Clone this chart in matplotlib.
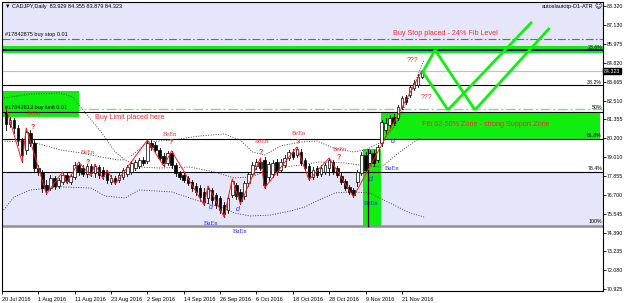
import matplotlib
matplotlib.use('Agg')
import matplotlib.pyplot as plt
from matplotlib.patches import Rectangle
from matplotlib.transforms import blended_transform_factory

plt.rcParams['font.family'] = ['Liberation Sans', 'DejaVu Sans']

# ---------------- data ----------------
opens = [81.80, 81.07, 81.31, 80.82, 80.08, 79.47, 80.51, 79.90, 78.36, 78.12,
         77.32, 77.13, 77.75, 77.26, 77.50, 77.93, 77.50, 77.81, 78.55, 78.36,
         78.00, 78.49, 78.06, 78.42, 78.24, 78.06, 77.50, 77.75, 77.63, 77.81,
         78.00, 78.12, 78.36, 78.49, 78.86, 78.79, 79.90, 79.78, 79.47, 79.10,
         78.67, 79.29, 78.55, 78.06, 77.93, 77.75, 77.50, 77.26, 77.13, 76.89,
         76.52, 77.01, 76.71, 76.52, 76.09, 75.78, 76.71, 77.32, 76.89, 76.64,
         77.44, 78.00, 78.49, 78.73, 78.86, 77.81, 78.00, 78.73, 78.24, 78.55,
         78.98, 79.35, 79.16, 79.35, 78.86, 78.49, 77.81, 78.36, 78.00, 78.12,
         78.36, 78.73, 78.36, 77.87, 77.57, 77.20, 77.01, 77.50, 78.06, 79.16,
         78.67, 79.29, 78.86, 79.90, 80.70, 81.01, 81.50, 81.44, 82.11, 82.73,
         82.85, 83.28, 83.46, 83.929]
closes = [81.07, 81.31, 80.82, 80.08, 79.16, 80.58, 79.90, 78.36, 78.12, 77.13,
          77.01, 77.75, 77.26, 77.63, 77.93, 77.57, 77.87, 78.55, 78.12, 78.00,
          78.49, 78.06, 78.49, 77.93, 77.87, 77.63, 77.75, 77.50, 77.93, 78.24,
          78.42, 78.67, 78.73, 78.86, 78.67, 79.90, 79.65, 79.47, 78.98, 78.67,
          79.29, 78.55, 78.06, 77.81, 77.63, 77.44, 77.13, 76.89, 76.58, 76.27,
          77.07, 76.40, 76.09, 75.78, 75.54, 76.52, 77.57, 76.64, 76.34, 77.44,
          78.00, 78.55, 78.73, 78.36, 77.32, 78.61, 78.67, 78.12, 78.73, 78.98,
          79.35, 79.04, 79.53, 78.67, 78.36, 77.81, 78.24, 77.93, 78.36, 78.55,
          78.86, 78.12, 77.93, 77.50, 77.13, 76.89, 76.71, 78.12, 79.16, 78.24,
          79.29, 78.67, 79.65, 81.19, 81.13, 81.44, 81.13, 82.11, 82.67, 82.42,
          83.34, 83.59, 83.96, 84.323]
highs = [82.05, 81.50, 81.44, 81.01, 80.20, 80.82, 80.70, 80.08, 78.55, 78.24,
         77.63, 77.93, 77.87, 77.75, 78.12, 78.06, 78.00, 78.73, 78.73, 78.55,
         78.61, 78.61, 78.61, 78.55, 78.42, 78.24, 77.93, 77.87, 78.06, 78.36,
         78.55, 78.79, 78.86, 78.98, 79.04, 80.08, 80.08, 79.96, 79.59, 79.29,
         79.41, 79.41, 78.67, 78.18, 78.06, 77.87, 77.63, 77.44, 77.32, 77.13,
         77.26, 77.13, 76.83, 76.64, 76.27, 76.71, 77.69, 77.44, 77.07, 77.57,
         78.12, 78.73, 78.92, 78.98, 79.04, 78.73, 78.86, 78.92, 78.92, 79.16,
         79.47, 79.53, 79.65, 79.53, 78.98, 78.61, 78.42, 78.49, 78.55, 78.67,
         78.98, 78.86, 78.49, 78.12, 77.69, 77.32, 77.13, 78.24, 79.35, 79.35,
         79.47, 79.47, 79.78, 81.31, 81.44, 81.62, 81.68, 82.24, 82.79, 82.85,
         83.46, 83.77, 84.14, 84.355]
lows = [80.70, 80.88, 80.51, 79.78, 78.73, 79.22, 79.72, 78.12, 77.93, 76.89,
        76.77, 77.01, 77.07, 77.13, 77.38, 77.44, 77.38, 77.69, 77.93, 77.87,
        77.81, 77.87, 77.81, 77.75, 77.69, 77.44, 77.38, 77.38, 77.50, 77.69,
        77.87, 78.00, 78.24, 78.36, 78.55, 78.67, 79.47, 79.35, 78.86, 78.49,
        78.55, 78.36, 77.87, 77.69, 77.50, 77.32, 76.95, 76.71, 76.40, 76.09,
        76.21, 76.21, 75.91, 75.60, 75.35, 75.60, 76.58, 76.46, 76.15, 76.46,
        77.26, 77.87, 78.30, 78.24, 77.13, 77.63, 77.81, 77.93, 78.12, 78.42,
        78.86, 78.92, 79.04, 78.55, 78.24, 77.63, 77.69, 77.81, 77.87, 78.00,
        77.93, 78.00, 77.81, 77.38, 77.01, 76.77, 76.58, 77.26, 77.93, 78.12,
        78.55, 78.49, 78.73, 79.72, 80.51, 80.88, 81.01, 81.31, 81.99, 82.30,
        82.73, 83.16, 83.34, 83.879]

date_labels = ["20 Jul 2016", "1 Aug 2016", "11 Aug 2016", "23 Aug 2016", "2 Sep 2016",
               "14 Sep 2016", "26 Sep 2016", "6 Oct 2016", "18 Oct 2016", "28 Oct 2016",
               "9 Nov 2016", "21 Nov 2016"]
price_ticks = [88.320, 87.130, 85.975, 84.820, 83.665, 82.510, 81.355, 80.200,
               79.010, 77.855, 76.700, 75.545, 74.390, 73.235, 72.080, 70.925]

# zigzag (bar index, price)
zz_x = [1, 5, 6, 11, 15, 16, 19, 22, 23, 25, 26, 28, 36, 40, 42, 50, 51, 55, 57, 59,
        64, 65, 73, 76, 81, 87, 104]
zz_y = [82.05, 78.73, 80.82, 76.77, 78.12, 77.44, 78.73, 77.87, 78.61, 77.69, 78.24,
        77.38, 80.08, 78.49, 79.41, 76.09, 77.26, 75.35, 77.69, 76.15, 78.98, 77.13,
        79.65, 77.63, 78.98, 76.58, 84.355]

# dotted envelope bands
band_a_x = [0.5, 7, 14.5, 17.5, 20.5, 24.5, 28, 30.5, 34, 39, 46.5, 52.5, 57.5, 61.5,
            65, 70, 74, 78.5, 85, 90, 94, 98.5, 103.5]
band_a_y = [82.67, 82.91, 82.97, 82.73, 81.80, 80.58, 79.35, 78.86, 78.42, 78.36,
            78.42, 78.12, 77.75, 77.81, 78.12, 78.42, 78.55, 78.73, 78.67, 78.49,
            78.42, 79.35, 80.21]
band_b_x = [32, 36, 42, 49, 55, 59, 62, 65, 69, 74, 78, 82, 87, 90, 93.5, 97.5, 101, 104.5]
band_b_y = [79.10, 79.96, 80.08, 80.33, 80.45, 80.08, 79.35, 79.16, 79.72, 79.96,
            80.02, 79.59, 79.35, 79.47, 79.90, 81.01, 82.85, 85.00]
band_c_x = [0, 7.5, 14.5, 19.5, 24.5, 28.5, 30.5]
band_c_y = [80.02, 79.96, 79.47, 79.29, 79.04, 78.86, 78.86]
band_l_x = [0, 3, 7, 14.5, 22, 25.5, 30.5, 34, 42, 49.5, 54, 57.5, 61.5, 66.5, 71.5,
            75, 78.5, 82.5, 86, 91, 96, 101, 104.5]
band_l_y = [75.66, 76.58, 77.01, 77.20, 77.13, 76.64, 76.52, 77.01, 76.89, 76.27,
            75.97, 75.60, 75.41, 75.47, 75.72, 75.97, 76.40, 76.83, 76.89, 76.83,
            76.21, 75.60, 75.35]

# projection lines (segments)
proj = [((104.2, 84.26), (107.2, 85.62)),
        ((104.2, 84.26), (110.4, 81.93)),
        ((107.2, 85.62), (117.1, 81.93)),
        ((110.4, 81.93), (131.2, 87.34)),
        ((117.1, 81.93), (135.6, 86.97))]

been_pos = [(7.9, 81.74), (21.3, 79.29), (41.6, 80.39), (64.4, 80.02), (73.5, 80.51), (83.7, 79.47)]
q_pos = [(7.7, 80.88), (21.3, 78.73), (41.8, 79.90), (64.1, 79.29), (73.3, 79.90), (83.4, 78.98)]
d_pos = [(51.7, 75.91), (58.4, 75.84), (91.3, 77.63), (96.8, 79.96)]
buen_pos = [(51.7, 74.98), (58.9, 74.43), (96.5, 78.36), (91.3, 76.15)]

GREEN = '#10ee10'
LAV = '#e6e6fa'
RED = '#f03030'

fig = plt.figure(figsize=(6.25, 3.03), dpi=100)
ax = fig.add_axes([2/625, 12/303, 601/625, 289/303])
ax.set_xlim(0, 148.8)
ax.set_ylim(70.80, 88.566)

# backgrounds
ax.axhspan(85.86, 88.566, color=LAV, lw=0, zorder=0)
ax.axhspan(74.80, 78.12, color=LAV, lw=0, zorder=0)
ax.axhspan(85.43, 85.86, color=GREEN, lw=0, zorder=1)
ax.axhline(85.62, color='#000080', lw=1.4, zorder=2)

# level lines
ax.axhline(86.29, color='#4f7f4f', lw=0.8, ls=(0, (7, 2, 1.5, 2)), zorder=1)
ax.axhline(81.99, color='#a8c4a8', lw=1.0, ls=(0, (7, 2, 1.5, 2)), zorder=1)
ax.axhline(84.323, color='#c0c0c0', lw=0.8, zorder=1)
for lv in [83.45, 81.80, 80.15, 78.12]:
    ax.axhline(lv, color='black', lw=0.8, zorder=2)
ax.axhline(74.80, color='#909090', lw=1.8, zorder=2)

# green boxes
ax.add_patch(Rectangle((0, 81.50), 19.06, 1.60, facecolor=GREEN, lw=0, zorder=1.5))
ax.add_patch(Rectangle((93.8, 80.15), 54.2, 1.65, facecolor=GREEN, lw=0, zorder=1.5))
ax.add_patch(Rectangle((89.35, 74.80), 4.45, 4.73, facecolor=GREEN, lw=0, zorder=1.5))
ax.plot([90.5, 90.5], [74.80, 79.53], color='black', lw=0.9, zorder=2.5)

# bands
for bx, by in [(band_a_x, band_a_y), (band_b_x, band_b_y), (band_c_x, band_c_y), (band_l_x, band_l_y)]:
    ax.plot(bx, by, color='#303030', lw=0.6, ls=(0, (1.2, 1.8)), zorder=3)

# candles
for i in range(len(opens)):
    x = i + 1
    o, h, l, c = opens[i], highs[i], lows[i], closes[i]
    ax.plot([x, x], [l, h], color='black', lw=0.6, zorder=4)
    fc = 'white' if c >= o else 'black'
    ax.add_patch(Rectangle((x - 0.32, min(o, c)), 0.64, max(abs(c - o), 0.02),
                           facecolor=fc, edgecolor='black', lw=0.5, zorder=5))

# zigzag
ax.plot(zz_x, zz_y, color='#ff2020', lw=0.7, zorder=6)

# projections
for (x0, y0), (x1, y1) in proj:
    ax.plot([x0, x1], [y0, y1], color=GREEN, lw=2.0, solid_capstyle='butt', zorder=6)

# labels
for x, y in been_pos:
    ax.text(x, y, 'BeEn', color=RED, fontsize=4.6, family=['Liberation Serif'], ha='center', va='center', zorder=7)
for x, y in q_pos:
    ax.text(x, y, '?', color=RED, fontsize=5, fontweight='bold', ha='center', va='center', zorder=7)
for x, y in d_pos:
    ax.text(x, y, 'd', color='#2030ff', fontsize=5, style='italic', ha='center', va='center', zorder=7)
for x, y in buen_pos:
    ax.text(x, y, 'BuEn', color='#2030ff', fontsize=4.6, family=['Liberation Serif'], ha='center', va='center', zorder=7)

ax.text(101.7, 85.0, '???', color=RED, fontsize=5, ha='center', va='center', zorder=7)
ax.text(105.0, 82.67, '???', color=RED, fontsize=5, ha='center', va='center', zorder=7)
ax.text(109.7, 86.60, 'Buy Stop placed - 24% Fib Level', color=RED, fontsize=5.2, ha='center', va='center', zorder=7)
ax.text(119.7, 81.01, 'Fib 62-50% Zone - strong Support Zone', color=RED, fontsize=5.2, ha='center', va='center', zorder=7)
ax.text(31.6, 81.44, 'Buy Limit placed here', color=RED, fontsize=5.2, ha='center', va='center', zorder=7)
ax.text(0.8, 82.11, '#17842813 buy limit 0.01', color='black', fontsize=4.0, ha='left', va='center', zorder=7)
ax.text(0.8, 86.54, '#17842875 buy stop 0.01', color='black', fontsize=4.0, ha='left', va='center', zorder=7)
ax.text(0.8, 88.30, '\u25bc CADJPY,Daily  83.929 84.355 83.879 84.323', color='black', fontsize=4.0,
        ha='left', va='center', zorder=7)
ax.text(146.4, 88.30, 'autoslautotp-D1-ATR', color='black', fontsize=4.0, ha='right', va='center', zorder=7)
ax.text(148.5, 88.28, '\u263a', color='black', fontsize=5.0, family=['DejaVu Sans'], ha='right', va='center', zorder=7)

for txt, y in [('23.6%', 85.74), ('38.2%', 83.62), ('50%', 82.05), ('61.8%', 80.33),
               ('78.4%', 78.30), ('100%', 75.05)]:
    ax.text(148.6, y, txt, color='black', fontsize=3.8, ha='right', va='center', zorder=7)

# axes styling
ax.yaxis.tick_right()
ax.set_yticks(price_ticks)
ax.set_yticklabels(['%.3f' % v for v in price_ticks], fontsize=3.8)
ax.set_xticks(list(range(0, 9 * len(date_labels), 9)))
ax.set_xticklabels(date_labels, fontsize=4.0)
for lbl in ax.get_xticklabels():
    lbl.set_ha('left')
ax.tick_params(axis='y', length=2.0, width=0.6, pad=1.0)
ax.tick_params(axis='x', length=2.5, width=0.6, pad=1.5)
for sp in ax.spines.values():
    sp.set_linewidth(0.8)

tr = blended_transform_factory(ax.transAxes, ax.transData)
ax.text(1.002, 84.323, '84.323', transform=tr, color='white', fontsize=3.8, ha='left', va='center',
        bbox=dict(facecolor='black', edgecolor='black', pad=0.6), zorder=8, clip_on=False)

fig.savefig('out.png', dpi=100)
